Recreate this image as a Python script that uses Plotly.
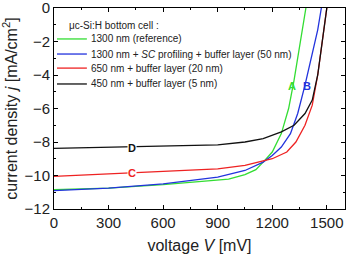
import plotly.graph_objects as go

# Data
names = ["1300 nm (reference)",
         "1300 nm + <i>SC</i> profiling + buffer layer (50 nm)",
         "650 nm + buffer layer (20 nm)",
         "450 nm + buffer layer (5 nm)"]
colors = ["#33dd33", "#2233dd", "#ee2222", "#111111"]
letters = ["A", "B", "C", "D"]

vA = [0, 300, 600, 900, 960, 1050, 1110, 1150, 1200, 1250, 1290, 1320, 1350, 1370, 1385]
jA = [-10.85, -10.75, -10.55, -10.3, -10.22, -9.95, -9.65, -9.2, -8.6, -7.5, -6.0, -4.3, -2.3, -0.8, 0.0]

vB = [0, 300, 600, 900, 1050, 1150, 1200, 1250, 1300, 1340, 1380, 1420, 1450, 1470]
jB = [-10.9, -10.75, -10.5, -10.1, -9.7, -9.2, -8.8, -8.3, -7.5, -6.3, -4.6, -2.8, -1.3, 0.0]

vC = [0, 300, 600, 900, 1050, 1150, 1200, 1280, 1330, 1380, 1420, 1450, 1470, 1490, 1500]
jC = [-10.05, -9.9, -9.75, -9.6, -9.4, -9.15, -9.0, -8.6, -8.0, -7.0, -5.8, -4.0, -2.5, -1.0, 0.0]

vD = [0, 300, 600, 900, 1050, 1150, 1250, 1320, 1380, 1420, 1450, 1470, 1490, 1500]
jD = [-8.38, -8.32, -8.27, -8.17, -8.0, -7.8, -7.4, -7.0, -6.3, -5.5, -4.0, -2.5, -1.0, 0.0]

label_v = [1310, 1393, 430, 430]
label_j = [-4.65, -4.65, -9.85, -8.33]

xs = [vA, vB, vC, vD]
ys = [jA, jB, jC, jD]

font = "Liberation Sans, Arial, sans-serif"
fig = go.Figure()
for x, y, n, c in zip(xs, ys, names, colors):
    fig.add_trace(go.Scatter(x=x, y=y, mode="lines", name=n,
                             line=dict(color=c, width=1.3), showlegend=False))

for L, lv, lj, c in zip(letters, label_v, label_j, colors):
    fig.add_annotation(x=lv, y=lj, text="<b>%s</b>" % L, showarrow=False,
                       font=dict(color=c, size=11, family=font),
                       bgcolor="white" if L in ("C", "D") else "rgba(0,0,0,0)",
                       borderpad=0)

# custom legend
fig.add_annotation(xref="paper", yref="paper", x=0.045, y=0.915, xanchor="left",
                   yanchor="middle", text="\u03bcc-Si:H bottom cell :", showarrow=False,
                   font=dict(size=10, family=font, color="#222"))
rows = [0.846, 0.771, 0.701, 0.622]
for n, c, ry in zip(names, colors, rows):
    fig.add_shape(type="line", xref="paper", yref="paper", x0=0.0103, x1=0.113,
                  y0=ry, y1=ry, line=dict(color=c, width=1.3))
    fig.add_annotation(xref="paper", yref="paper", x=0.12, y=ry, xanchor="left",
                       yanchor="middle", text=n, showarrow=False,
                       font=dict(size=10, family=font, color="#222"))

axis_common = dict(showline=True, linecolor="black", linewidth=1, mirror="ticks",
                   ticks="inside", ticklen=4, tickcolor="black", showgrid=False,
                   zeroline=False, ticklabeloverflow="allow",
                   tickfont=dict(size=15, family=font, color="#222"))
fig.update_xaxes(range=[0, 1600], tickvals=[0, 300, 600, 900, 1200, 1500],
                 minor=dict(ticks="inside", ticklen=2, dtick=150, tick0=0, tickcolor="black"),
                 title=dict(text="voltage <i>V</i> [mV]", font=dict(size=16, family=font, color="#222"),
                            standoff=9),
                 **axis_common)
fig.update_yaxes(range=[-12, 0], tickvals=[0, -2, -4, -6, -8, -10, -12],
                 minor=dict(ticks="inside", ticklen=2, dtick=1, tick0=0, tickcolor="black"),
                 title=dict(text="current density <i>j</i> [mA/cm<sup>2</sup>]",
                            font=dict(size=16, family=font, color="#222"), standoff=3),
                 **axis_common)
fig.update_layout(width=346, height=257, margin=dict(l=54, r=1, t=8, b=48, autoexpand=False),
                  plot_bgcolor="white", paper_bgcolor="white", showlegend=False)
fig.write_html("out.html", config={"displayModeBar": False},
               post_script="document.body.style.margin='0';document.body.style.overflow='hidden';")
